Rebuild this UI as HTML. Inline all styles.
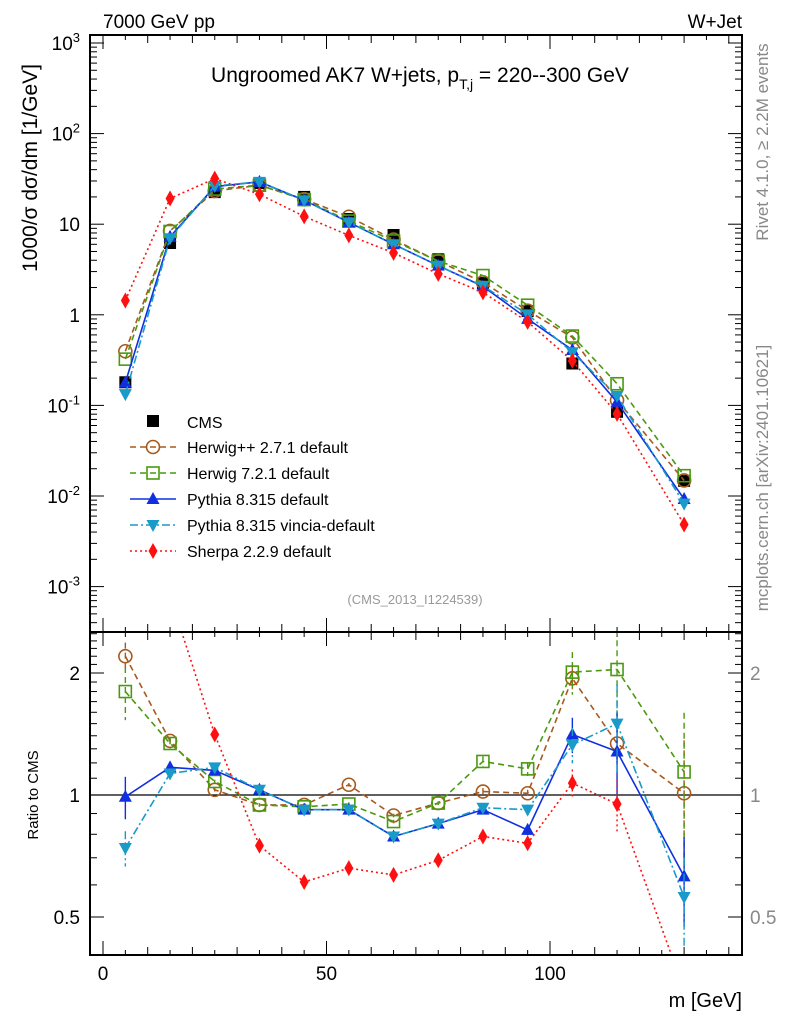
<!DOCTYPE html>
<html><head><meta charset="utf-8">
<style>
body{margin:0;background:#fff;}
svg{display:block;font-family:"Liberation Sans",sans-serif;}
</style></head>
<body>
<svg id="chart" width="786" height="1024" viewBox="0 0 786 1024" xmlns="http://www.w3.org/2000/svg">
  <rect x="0" y="0" width="786" height="1024" fill="#fff"/>
  <g id="main-clip-def"><defs>
    <clipPath id="clipMain"><rect x="90" y="35" width="652" height="597"/></clipPath>
    <clipPath id="clipRatio"><rect x="90" y="632" width="652" height="323"/></clipPath>
  </defs></g>
  <text x="103" y="28" font-size="19">7000 GeV pp</text>
  <text x="742" y="28" font-size="19" text-anchor="end">W+Jet</text>
  <text x="420" y="82" font-size="21" text-anchor="middle">Ungroomed AK7 W+jets, p<tspan font-size="14" dy="7">T,j</tspan><tspan dy="-7"> = 220--300 GeV</tspan></text>
  <text transform="translate(37,168) rotate(-90)" font-size="21" text-anchor="middle">1000/σ  dσ/dm [1/GeV]</text>
  <text transform="translate(768,142) rotate(-90)" font-size="17" fill="#888" text-anchor="middle">Rivet 4.1.0, ≥ 2.2M events</text>
  <text transform="translate(768,478) rotate(-90)" font-size="17" fill="#888" text-anchor="middle">mcplots.cern.ch [arXiv:2401.10621]</text>
  <text x="415" y="604" font-size="13" fill="#999" text-anchor="middle">(CMS_2013_I1224539)</text>
  <text transform="translate(38,795) rotate(-90)" font-size="15" text-anchor="middle">Ratio to CMS</text>
  <text x="742" y="1007" font-size="20" text-anchor="end">m [GeV]</text>
  <g id="axes"></g>
  <g id="mainSeries" clip-path="url(#clipMain)"></g>
  <g id="ratioSeries" clip-path="url(#clipRatio)"></g>
  <g id="legend"></g>
  <rect x="90" y="35" width="652" height="597" fill="none" stroke="#000" stroke-width="2"/>
  <rect x="90" y="632" width="652" height="323" fill="none" stroke="#000" stroke-width="2"/>
</svg>
<script>
const massBins = [5, 15, 25, 35, 45, 55, 65, 75, 85, 95, 105, 115, 130];
const cmsValues = [0.18, 6.2, 22.6, 28.5, 20, 11.4, 7.6, 4.1, 2.24, 1.1, 0.29, 0.085, 0.0147];
const herwigppRatio = [2.2, 1.36, 1.03, 0.945, 0.945, 1.06, 0.89, 0.955, 1.02, 1.01, 1.94, 1.34, 1.01];
const herwig7Ratio = [1.8, 1.34, 1.08, 0.945, 0.935, 0.95, 0.86, 0.955, 1.21, 1.16, 2.01, 2.04, 1.14];
const pythiaRatio = [0.99, 1.17, 1.15, 1.03, 0.92, 0.92, 0.79, 0.85, 0.92, 0.82, 1.41, 1.28, 0.63];
const vinciaRatio = [0.74, 1.13, 1.17, 1.03, 0.92, 0.92, 0.79, 0.85, 0.93, 0.92, 1.33, 1.5, 0.56];
const sherpaRatio = [8.0, 3.1, 1.41, 0.75, 0.61, 0.66, 0.635, 0.69, 0.79, 0.76, 1.07, 0.95, 0.33];
const herwigppErr = [0.08, 0.02, 0.01, 0.01, 0.01, 0.01, 0.01, 0.01, 0.02, 0.02, 0.06, 0.1, 0.35];
const herwig7Err = [0.15, 0.03, 0.01, 0.01, 0.01, 0.01, 0.01, 0.01, 0.03, 0.04, 0.12, 0.25, 0.4];
const pythiaErr = [0.12, 0.02, 0.01, 0.01, 0.01, 0.01, 0.01, 0.01, 0.02, 0.03, 0.1, 0.25, 0.25];
const vinciaErr = [0.1, 0.02, 0.01, 0.01, 0.01, 0.01, 0.01, 0.01, 0.02, 0.03, 0.1, 0.25, 0.25];
const sherpaErr = [0.3, 0.1, 0.02, 0.01, 0.01, 0.01, 0.01, 0.01, 0.03, 0.04, 0.08, 0.15, 0.2];
const xTickLabels = [0, 50, 100];
const mainTickLabels = ["10⁻³", "10⁻²", "10⁻¹", "1", "10", "10²", "10³"];
const ratioTickValues = [0.5, 1, 2];
const ratioTickLabels = ["0.5", "1", "2"];

const NS = "http://www.w3.org/2000/svg";
const X0 = 103, XS = 4.47;
function xPx(v){ return X0 + v * XS; }
function yMain(v){ return 43 + (3 - Math.log10(v)) * 90.6; }
function yRatio(r){ return 795 - Math.log2(r) * 122; }
function mk(tag, attrs, parent){ const e = document.createElementNS(NS, tag); for (const k in attrs) e.setAttribute(k, attrs[k]); parent.appendChild(e); return e; }

const axes = document.getElementById('axes');
for (let v = 0; v <= 140; v += 5) {
  const len = v % 50 === 0 ? 14 : (v % 10 === 0 ? 8 : 5);
  const x = xPx(v);
  for (const [yb, yt] of [[632, 35], [955, 632]]) {
    const t1 = mk('line', {x1: x, x2: x, y1: yb, y2: yb - len, stroke: '#000', 'stroke-width': 1}, axes);
    
    
    const t2 = mk('line', {x1: x, x2: x, y1: yt, y2: yt + len, stroke: '#000', 'stroke-width': 1}, axes);
    
    
  }
}
xTickLabels.forEach(v => {
  const t = mk('text', {x: xPx(v), y: 980, 'font-size': 19, 'text-anchor': 'middle'}, axes);
  t.textContent = v;
  
  
});
for (let d = -4; d <= 3; d++) {
  for (let m = 1; m <= 9; m++) {
    const v = m * Math.pow(10, d);
    const y = yMain(v);
    if (y < 35 || y > 632) continue;
    const len = m === 1 ? 14 : 7;
    const a = mk('line', {x1: 90, x2: 90 + len, y1: y, y2: y, stroke: '#000'}, axes);
    
    
    const b = mk('line', {x1: 742, x2: 742 - len, y1: y, y2: y, stroke: '#000'}, axes);
    
    
  }
}
mainTickLabels.forEach((lab, i) => {
  const y = yMain(Math.pow(10, i - 3));
  const t = mk('text', {x: 80, y: y + 7, 'font-size': 19, 'text-anchor': 'end'}, axes);
  if (i >= 3 && i <= 4) { t.textContent = lab; }
  else {
    const base = document.createElementNS(NS, 'tspan'); base.textContent = '10'; t.appendChild(base);
    const ex = document.createElementNS(NS, 'tspan'); ex.setAttribute('font-size', 13); ex.setAttribute('dy', -8);
    ex.textContent = String(i - 3); t.appendChild(ex);
  }
  
  
});
for (let r = 0.4; r <= 2.6; r += 0.1) {
  const y = yRatio(r);
  if (y < 632 || y > 955) continue;
  const major = Math.abs(r - 0.5) < 1e-6 || Math.abs(r - 1) < 1e-6 || Math.abs(r - 2) < 1e-6;
  const len = major ? 14 : 7;
  const a = mk('line', {x1: 90, x2: 90 + len, y1: y, y2: y, stroke: '#000'}, axes);
  
  
  const b = mk('line', {x1: 742, x2: 742 - len, y1: y, y2: y, stroke: '#000'}, axes);
  
  
}
ratioTickValues.forEach((v, i) => {
  const y = yRatio(v) + 7;
  const a = mk('text', {x: 80, y: y, 'font-size': 19, 'text-anchor': 'end'}, axes);
  a.textContent = ratioTickLabels[i];
  
  
  const b = mk('text', {x: 750, y: y, 'font-size': 19, fill: '#888'}, axes);
  b.textContent = ratioTickLabels[i];
  
  
});
const refLine = mk('line', {x1: 90, x2: 742, y1: yRatio(1), y2: yRatio(1), stroke: '#000', 'stroke-width': 1.3}, axes);



function marker(g, type, x, y, color){
  let e;
  if (type === 'square') e = mk('rect', {x: x - 6, y: y - 6, width: 12, height: 12, fill: color}, g);
  else if (type === 'circle') e = mk('circle', {cx: x, cy: y, r: 6.5, fill: 'none', stroke: color, 'stroke-width': 1.6}, g);
  else if (type === 'osquare') e = mk('rect', {x: x - 6, y: y - 6, width: 12, height: 12, fill: 'none', stroke: color, 'stroke-width': 1.6}, g);
  else if (type === 'tri') e = mk('polygon', {points: `${x},${y-7} ${x-6.5},${y+5} ${x+6.5},${y+5}`, fill: color}, g);
  else if (type === 'dtri') e = mk('polygon', {points: `${x},${y+7} ${x-6.5},${y-5} ${x+6.5},${y-5}`, fill: color}, g);
  else e = mk('polygon', {points: `${x},${y-8} ${x-4.5},${y} ${x},${y+8} ${x+4.5},${y}`, fill: color}, g);
  return e;
}

const series = [
  {name: 'herwigpp', label: 'Herwig++ 2.7.1 default', ratio: herwigppRatio, err: herwigppErr, color: '#a65a1e', dash: '6,4', type: 'circle'},
  {name: 'herwig7', label: 'Herwig 7.2.1 default', ratio: herwig7Ratio, err: herwig7Err, color: '#4a9a10', dash: '6,4', type: 'osquare'},
  {name: 'pythia', label: 'Pythia 8.315 default', ratio: pythiaRatio, err: pythiaErr, color: '#1030e0', dash: '', type: 'tri'},
  {name: 'vincia', label: 'Pythia 8.315 vincia-default', ratio: vinciaRatio, err: vinciaErr, color: '#1a9ac8', dash: '8,3,2,3', type: 'dtri'},
  {name: 'sherpa', label: 'Sherpa 2.2.9 default', ratio: sherpaRatio, err: sherpaErr, color: '#ff1010', dash: '2,3', type: 'diamond'}
];

const mainG = document.getElementById('mainSeries');
const ratioG = document.getElementById('ratioSeries');
const cmsG = mk('g', {}, mainG);


massBins.forEach((m, i) => {
  const s = marker(cmsG, 'square', xPx(m), yMain(cmsValues[i]), '#000');
  
  
});
series.forEach(s => {
  const gm = mk('g', {}, mainG);
  
  
  const gr = mk('g', {}, ratioG);
  
  
  const ptsM = massBins.map((m, i) => [xPx(m), yMain(cmsValues[i] * s.ratio[i])]);
  const ptsR = massBins.map((m, i) => [xPx(m), yRatio(s.ratio[i])]);
  const lm = mk('polyline', {points: ptsM.map(p => p.join(',')).join(' '), fill: 'none', stroke: s.color, 'stroke-width': 1.6, 'stroke-dasharray': s.dash}, gm);
  
  
  const lr = mk('polyline', {points: ptsR.map(p => p.join(',')).join(' '), fill: 'none', stroke: s.color, 'stroke-width': 1.6, 'stroke-dasharray': s.dash}, gr);
  
  
  massBins.forEach((m, i) => {
    const x = xPx(m), r = s.ratio[i], e = s.err[i];
    const eb = mk('line', {x1: x, x2: x, y1: yRatio(r * (1 + e)), y2: yRatio(Math.max(r * (1 - e), 0.01)), stroke: s.color, 'stroke-width': 1.4, 'stroke-dasharray': s.dash}, gr);
    
    
    const pm = marker(gm, s.type, ptsM[i][0], ptsM[i][1], s.color);
    
    
    const pr = marker(gr, s.type, ptsR[i][0], ptsR[i][1], s.color);
    
    
  });
});

const leg = document.getElementById('legend');
const lc = mk('g', {}, leg);


const cm = marker(lc, 'square', 153, 421, '#000');


const ct = mk('text', {x: 187, y: 428, 'font-size': 16}, lc);
ct.textContent = 'CMS';


series.forEach((s, i) => {
  const y = 447 + i * 26;
  const g = mk('g', {}, leg);
  
  
  const l = mk('line', {x1: 130, x2: 176, y1: y, y2: y, stroke: s.color, 'stroke-width': 1.6, 'stroke-dasharray': s.dash}, g);
  
  
  const mkr = marker(g, s.type, 153, y, s.color);
  
  
  const t = mk('text', {x: 187, y: y + 6, 'font-size': 16}, g);
  t.textContent = s.label;
  
  
});
</script>
</body></html>
